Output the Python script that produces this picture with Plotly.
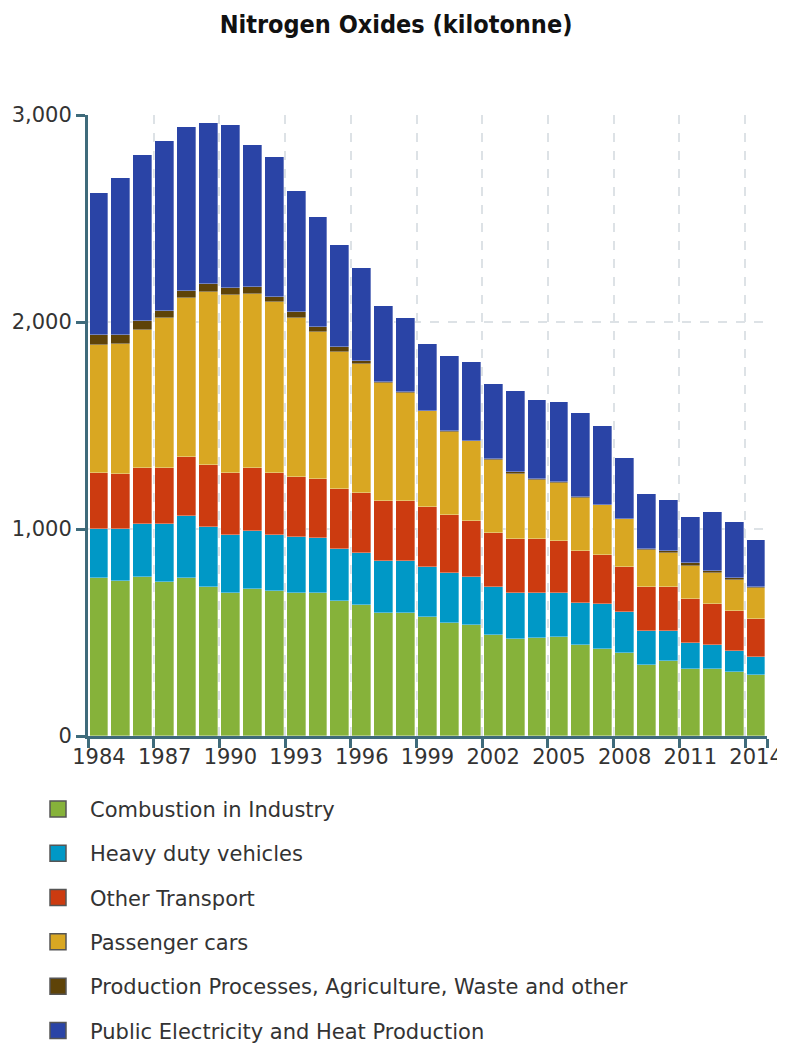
import plotly.graph_objects as go

years = list(range(1984, 2015))

combustion = [762, 750, 770, 742, 762, 721, 692, 710, 702, 692, 689, 654, 633, 596, 593, 576,
              544, 536, 488, 467, 472, 480, 440, 420, 402, 343, 364, 324, 324, 311, 295]
heavy_duty = [238, 250, 253, 281, 301, 290, 279, 282, 269, 271, 266, 249, 252, 249, 252, 242,
              245, 234, 233, 225, 220, 212, 204, 216, 196, 166, 145, 127, 116, 101, 85]
other_transport = [272, 264, 270, 270, 286, 298, 301, 301, 301, 290, 287, 290, 290, 292, 292, 290,
                   279, 269, 261, 260, 260, 251, 250, 238, 220, 212, 212, 211, 196, 192, 185]
passenger_cars = [617, 630, 668, 726, 768, 837, 858, 842, 826, 766, 708, 664, 622, 568, 519, 460,
                  401, 384, 349, 314, 287, 279, 258, 240, 228, 178, 165, 159, 153, 152, 152]
production = [48, 43, 45, 36, 34, 37, 33, 36, 24, 28, 27, 24, 16, 5, 4, 2,
              4, 4, 5, 7, 3, 5, 5, 4, 2, 4, 10, 13, 10, 5, 5]
public_electricity = [686, 759, 801, 819, 791, 778, 789, 684, 675, 586, 530, 491, 448, 367, 359, 324,
                      363, 380, 364, 395, 381, 385, 405, 380, 294, 265, 244, 225, 282, 271, 225]

series = [
    ("Combustion in Industry", combustion, "#86b23a"),
    ("Heavy duty vehicles", heavy_duty, "#0098c6"),
    ("Other Transport", other_transport, "#cc3b10"),
    ("Passenger cars", passenger_cars, "#d9a722"),
    ("Production Processes, Agriculture, Waste and other", production, "#5e4308"),
    ("Public Electricity and Heat Production", public_electricity, "#2a44a6"),
]

x_centers = [y + 0.5 for y in years]
label_years = list(range(1984, 2015, 3))
boundary_ticks = label_years + [2015]

fig = go.Figure()
for i, (name, vals, color) in enumerate(series):
    fig.add_trace(go.Bar(
        x=x_centers, y=vals, name=name, width=0.86,
        marker=dict(color=color, line=dict(color="rgba(255,255,255,0.55)", width=0.6)),
        legendgroup=f"g{i}", showlegend=False,
    ))
# legend entries (square swatches)
for i, (name, vals, color) in enumerate(series):
    fig.add_trace(go.Scatter(
        x=[None], y=[None], mode="markers", name=name, legendgroup=f"g{i}",
        marker=dict(symbol="square", size=20, color=color, line=dict(color="#555555", width=1.5)),
        showlegend=True,
    ))

axis_color = "#3f6b7b"
tick_font = dict(family="DejaVu Sans, Verdana, sans-serif", size=21, color="#333333")

fig.update_layout(
    width=777, height=1035,
    barmode="stack",
    plot_bgcolor="white", paper_bgcolor="white",
    margin=dict(l=80, r=18, t=107, b=307, autoexpand=False),
    title=dict(
        text="<b>Nitrogen Oxides (kilotonne)</b>",
        x=0.4994, xanchor="center", y=1 - 16 / 1035, yanchor="middle",
        font=dict(family="DejaVu Sans Condensed, Liberation Sans Narrow, sans-serif", size=25, color="#111111"),
    ),
    legend=dict(
        orientation="v", x=-0.0913, xanchor="left", y=-0.085, yanchor="top",
        traceorder="grouped", tracegroupgap=14, itemwidth=54, itemsizing="trace",
        font=dict(family="DejaVu Sans, Verdana, sans-serif", size=21, color="#333333"),
        bgcolor="rgba(0,0,0,0)",
    ),
    bargap=0,
)

fig.update_xaxes(
    range=[1984, 2015],
    tickmode="array", tickvals=[y + 0.5 for y in label_years], ticktext=[str(y) for y in label_years],
    ticks="", showgrid=False, tickfont=tick_font,
    showline=True, linecolor=axis_color, linewidth=3,
    minor=dict(tickmode="array", tickvals=boundary_ticks, ticks="outside", ticklen=9, tickwidth=3,
               tickcolor=axis_color, showgrid=True, gridcolor="#dde2e6", griddash="dash", gridwidth=1.5),
    zeroline=False,
)

fig.update_yaxes(
    range=[0, 3000], tickmode="array", tickvals=[0, 1000, 2000, 3000],
    ticktext=["0", "1,000", "2,000", "3,000"],
    ticks="outside", ticklen=9, tickwidth=3, tickcolor=axis_color, tickfont=tick_font,
    showline=True, linecolor=axis_color, linewidth=3,
    showgrid=True, gridcolor="#dde2e6", griddash="dash", gridwidth=1.5,
    zeroline=False,
)

fig.write_html("out.html")
